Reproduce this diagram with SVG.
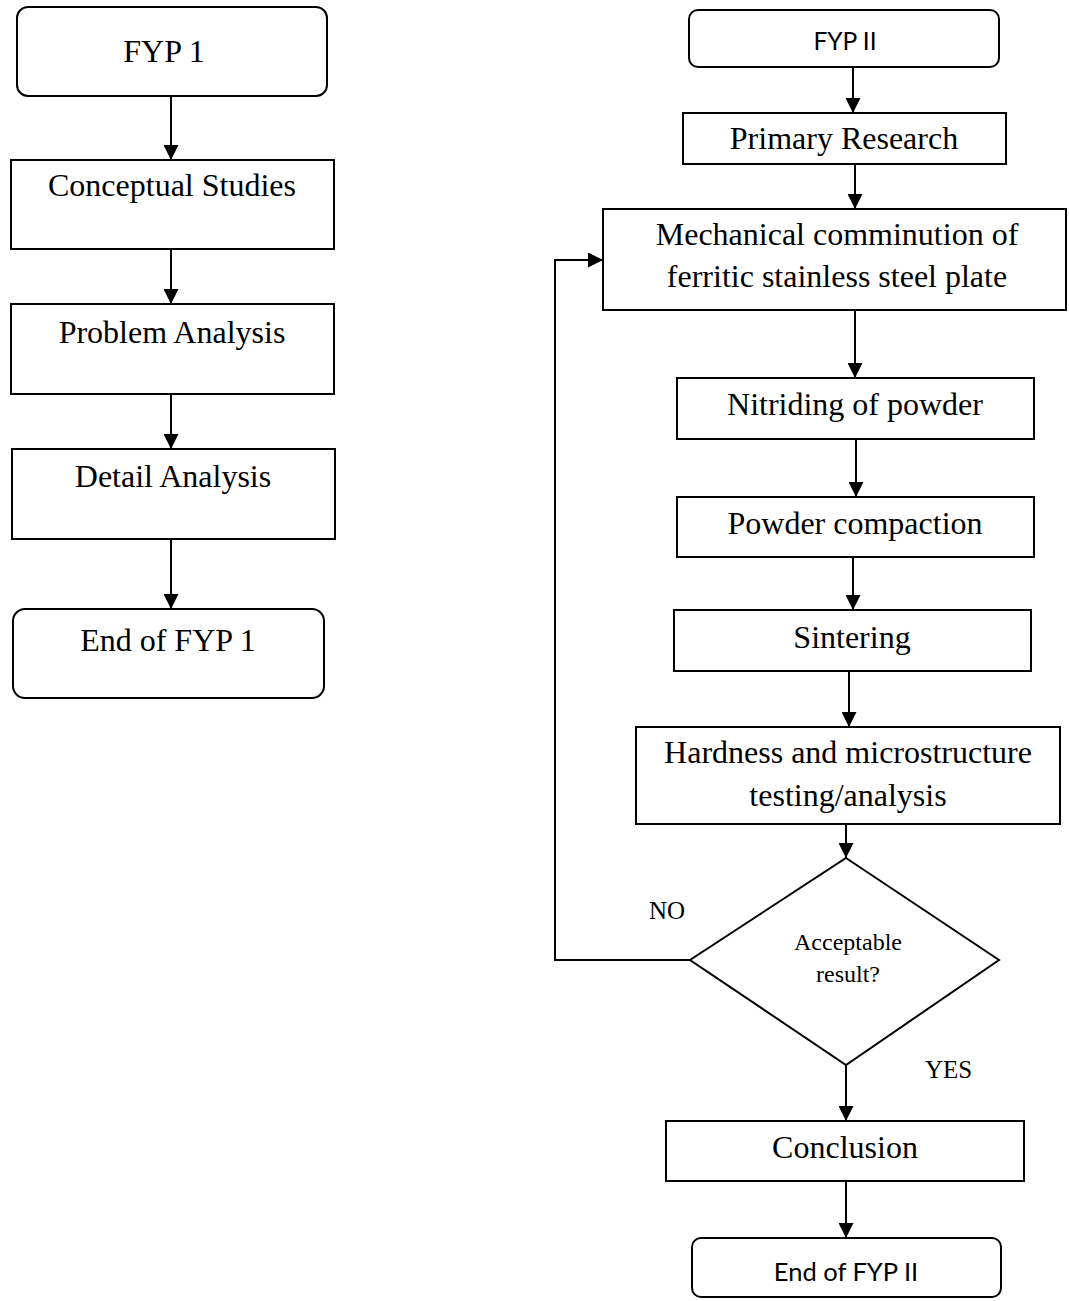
<svg xmlns="http://www.w3.org/2000/svg" width="1069" height="1301" viewBox="0 0 1069 1301">
<style>
.box{fill:#fff;stroke:#000;stroke-width:2}
.t{font-family:"Liberation Serif","Times New Roman",serif;font-size:32px;fill:#000;text-anchor:middle}
.d{font-family:"Liberation Serif","Times New Roman",serif;font-size:24px;fill:#000;text-anchor:middle}
.s{font-family:Lato,"Liberation Sans",sans-serif;fill:#000;text-anchor:middle}
.lbl{font-family:"Liberation Serif","Times New Roman",serif;font-size:25px;fill:#000}
.c{fill:none;stroke:#000;stroke-width:2}
</style>
<defs>
<marker id="ah" markerUnits="userSpaceOnUse" markerWidth="15" markerHeight="15" refX="15" refY="7.5" orient="auto">
<path d="M0,0 L15,7.5 L0,15 z" fill="#000"/>
</marker>
</defs>
<rect width="1069" height="1301" fill="#fff"/>

<g id="connectors">
<line class="c" x1="171" y1="96" x2="171" y2="160" marker-end="url(#ah)"/>
<line class="c" x1="171" y1="249" x2="171" y2="304" marker-end="url(#ah)"/>
<line class="c" x1="171" y1="394" x2="171" y2="449" marker-end="url(#ah)"/>
<line class="c" x1="171" y1="539" x2="171" y2="609" marker-end="url(#ah)"/>

<line class="c" x1="853" y1="67" x2="853" y2="113" marker-end="url(#ah)"/>
<line class="c" x1="855" y1="164" x2="855" y2="209" marker-end="url(#ah)"/>
<line class="c" x1="855" y1="310" x2="855" y2="378" marker-end="url(#ah)"/>
<line class="c" x1="856" y1="439" x2="856" y2="497" marker-end="url(#ah)"/>
<line class="c" x1="853" y1="557" x2="853" y2="610" marker-end="url(#ah)"/>
<line class="c" x1="849" y1="671" x2="849" y2="727" marker-end="url(#ah)"/>
<line class="c" x1="846" y1="824" x2="846" y2="858" marker-end="url(#ah)"/>
<line class="c" x1="846" y1="1065" x2="846" y2="1121" marker-end="url(#ah)"/>
<line class="c" x1="846" y1="1181" x2="846" y2="1238" marker-end="url(#ah)"/>
<polyline class="c" points="690,960 555,960 555,260 603,260" marker-end="url(#ah)"/>
</g>

<g id="fyp1">
<rect class="box" x="17" y="7" width="310" height="89" rx="11"/>
<text class="t" x="164" y="62">FYP 1</text>
</g>
<g id="conceptual">
<rect class="box" x="11" y="160" width="323" height="89"/>
<text class="t" x="172" y="196">Conceptual Studies</text>
</g>
<g id="problem">
<rect class="box" x="11" y="304" width="323" height="90"/>
<text class="t" x="172" y="343">Problem Analysis</text>
</g>
<g id="detail">
<rect class="box" x="12" y="449" width="323" height="90"/>
<text class="t" x="173" y="487">Detail Analysis</text>
</g>
<g id="endfyp1">
<rect class="box" x="13" y="609" width="311" height="89" rx="12"/>
<text class="t" x="168" y="651">End of FYP 1</text>
</g>

<g id="fyp2">
<rect class="box" x="689" y="10" width="310" height="57" rx="9"/>
<text class="s" x="845" y="50" font-size="24.5">FYP II</text>
</g>
<g id="primary">
<rect class="box" x="683" y="113" width="323" height="51"/>
<text class="t" x="844" y="149">Primary Research</text>
</g>
<g id="mechanical">
<rect class="box" x="603" y="209" width="463" height="101"/>
<text class="t" x="837" y="245">Mechanical comminution of</text>
<text class="t" x="837" y="287">ferritic stainless steel plate</text>
</g>
<g id="nitriding">
<rect class="box" x="677" y="378" width="357" height="61"/>
<text class="t" x="855" y="415">Nitriding of powder</text>
</g>
<g id="compaction">
<rect class="box" x="677" y="497" width="357" height="60"/>
<text class="t" x="855" y="534">Powder compaction</text>
</g>
<g id="sintering">
<rect class="box" x="674" y="610" width="357" height="61"/>
<text class="t" x="852" y="648">Sintering</text>
</g>
<g id="hardness">
<rect class="box" x="636" y="727" width="424" height="97"/>
<text class="t" x="848" y="763">Hardness and microstructure</text>
<text class="t" x="848" y="806">testing/analysis</text>
</g>
<g id="decision">
<polygon class="box" points="846,858 999,960 846,1065 690,960"/>
<text class="d" x="848" y="950">Acceptable</text>
<text class="d" x="848" y="982">result?</text>
</g>
<text class="lbl" x="649" y="919">NO</text>
<text class="lbl" x="925" y="1078">YES</text>
<g id="conclusion">
<rect class="box" x="666" y="1121" width="358" height="60"/>
<text class="t" x="845" y="1158">Conclusion</text>
</g>
<g id="endfyp2">
<rect class="box" x="692" y="1238" width="309" height="59" rx="9"/>
<text class="s" x="846" y="1281" font-size="25.5">End of FYP II</text>
</g>
</svg>
